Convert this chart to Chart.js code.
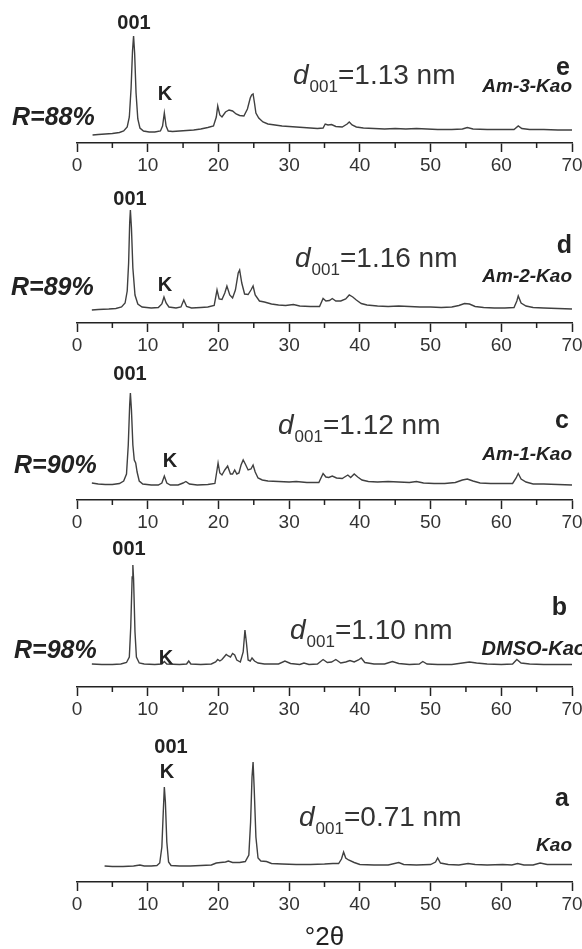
<!DOCTYPE html>
<html>
<head>
<meta charset="utf-8">
<script src="https://cdn.jsdelivr.net/npm/chart.js@4.4.1/dist/chart.umd.min.js"></script>
<style>
  html, body { margin: 0; padding: 0; background: #fff; overflow: hidden; width: 582px; height: 949px; }
  #fig { position: relative; width: 582px; height: 949px; font-family: "Liberation Sans", Arial, sans-serif; color: #222; }
  #fig canvas { position: absolute; left: 0; }
  .lbl { position: absolute; white-space: nowrap; line-height: 1; }
  .sub { position: relative; top: 8px; font-size: 17px; margin-left: 1px; }
</style>
</head>
<body>
<div id="fig"></div>
<script>
// XRD patterns, [2theta in degrees, intensity in a.u.]
const am3Kao = [
  [2.2, 8], [3, 8.5], [4, 9], [5, 9.5], [6, 10.5], [6.6, 12], [7.1, 16], [7.4, 26], [7.65, 55], [7.85, 92],
  [8.0, 107], [8.15, 90], [8.35, 50], [8.6, 24], [8.9, 15], [9.4, 12], [10.2, 11], [11, 11], [11.8, 12], [12.1, 17],
  [12.35, 30], [12.6, 17], [12.9, 12], [13.5, 11.5], [14.5, 12], [15.5, 12.5], [16.5, 13], [17.5, 14], [18.5, 15.5], [19.3, 17],
  [19.7, 26], [19.9, 37], [20.2, 28], [20.5, 26], [21, 31], [21.5, 33], [22, 32], [22.5, 29], [23, 27.5], [23.6, 27],
  [24.1, 34], [24.5, 45], [24.7, 48], [24.9, 49], [25.1, 40], [25.3, 30], [25.7, 25], [26.3, 21], [27, 19], [28, 18],
  [29, 17], [30, 16.5], [31, 16], [32, 15.5], [33, 15], [34, 14.5], [34.8, 15], [35.1, 19], [35.5, 18], [36, 18.5],
  [36.6, 16.5], [37.5, 16], [38.2, 19], [38.5, 21], [38.9, 18], [39.5, 16], [40.5, 15], [42, 14.5], [43.5, 14], [45, 14.5],
  [46.5, 14], [48, 14.5], [49.5, 14], [51, 13.5], [53, 13.5], [54.5, 14], [55.2, 15.5], [56, 14], [58, 13.5], [60, 13.5],
  [61.8, 13.5], [62.4, 17], [62.9, 14.5], [64, 13.5], [66, 13.5], [68, 13], [70, 13],
];
const am2Kao = [
  [2.1, 13], [3, 13.5], [4.5, 14], [5.5, 14.5], [6.3, 16], [6.8, 20], [7.1, 32], [7.3, 60], [7.45, 100], [7.55, 113],
  [7.7, 95], [7.9, 55], [8.2, 28], [8.6, 19], [9.2, 16], [10.5, 15], [11.5, 15.5], [12.0, 19], [12.3, 26], [12.6, 20],
  [13.0, 16], [14.0, 15], [14.7, 16], [15.1, 23], [15.5, 16.5], [16.2, 15], [17.5, 15.5], [18.5, 16], [19.4, 17.5], [19.8, 33],
  [20.1, 24], [20.5, 23.5], [20.9, 30], [21.2, 37], [21.6, 28], [22.0, 25], [22.4, 33], [22.8, 50], [23.0, 53], [23.3, 40],
  [23.7, 29], [24.2, 28.5], [24.6, 33], [24.9, 37], [25.2, 28], [25.8, 22], [26.5, 21], [27.5, 19], [28.5, 18], [29.5, 17.5],
  [30.6, 18.5], [31.5, 17], [33, 16.5], [34.3, 16.5], [34.8, 24.5], [35.2, 22], [35.7, 22.5], [36.1, 24.5], [36.6, 22], [37.3, 22],
  [38, 24], [38.5, 28], [39, 26], [39.5, 23], [40.2, 19.5], [41, 18], [42.5, 17], [44, 16.5], [45.5, 17], [47, 16.5],
  [48.5, 16], [50, 16], [51.5, 15.5], [53, 16], [54, 17.5], [54.8, 19.5], [55.5, 19], [56.3, 16.5], [57.5, 15.5], [59, 15],
  [60.5, 15], [61.8, 15.5], [62.2, 22], [62.4, 27], [62.8, 20], [63.5, 17], [64.5, 15.5], [66, 15], [68, 14.5], [70, 14],
];
const am1Kao = [
  [2.1, 17], [3, 16], [4, 15.5], [5, 15.5], [6, 16.5], [6.6, 19], [7.0, 26], [7.25, 55], [7.45, 95], [7.55, 107],
  [7.7, 90], [7.9, 55], [8.1, 40], [8.3, 37], [8.5, 28], [8.8, 19], [9.3, 16], [10.5, 15], [11.5, 15], [12.0, 17],
  [12.35, 24], [12.7, 17], [13.2, 15], [14.3, 15], [15.0, 17], [15.4, 18.5], [15.9, 16], [17, 15], [18.5, 15.5], [19.5, 16.5],
  [19.8, 30], [19.95, 37], [20.2, 27], [20.5, 25], [20.9, 30], [21.3, 34], [21.7, 26], [22.0, 26], [22.3, 30], [22.6, 26],
  [22.9, 27], [23.2, 35], [23.5, 40], [23.8, 36], [24.2, 30], [24.6, 31], [24.9, 35], [25.2, 28], [25.6, 22], [26.2, 20],
  [27, 19], [28.5, 18.5], [30, 18], [31, 18.5], [32.5, 17.5], [34.2, 17.5], [34.8, 26.5], [35.2, 23], [35.6, 22.5], [36.1, 24],
  [36.7, 22], [37.5, 21.5], [38.3, 25], [38.7, 22.5], [39.2, 26], [39.7, 23], [40.3, 20], [41.2, 18.5], [42.5, 18], [44, 18.5],
  [45.5, 18], [47, 17.5], [48, 18.5], [49, 17], [50.5, 16.5], [52, 16.5], [53.5, 17.5], [54.5, 20], [55.2, 21], [56, 19],
  [57, 17], [58.5, 16.5], [60, 16.5], [61.6, 16.5], [62.1, 22], [62.4, 26.5], [62.8, 21], [63.5, 18], [64.5, 16], [66, 16],
  [68, 15.5], [70, 15],
];
const dmsoKao = [
  [2.1, 23], [3.5, 22.5], [5, 22.5], [6.2, 23], [7.0, 24.5], [7.4, 30], [7.6, 60], [7.8, 110], [7.9, 122], [8.0, 108],
  [8.2, 55], [8.4, 30], [8.8, 24], [9.5, 23], [11, 22.5], [12, 23], [12.35, 25.5], [12.7, 23], [14.5, 22.5], [15.5, 23],
  [15.8, 26], [16.1, 23], [17.5, 22.5], [19, 23], [19.6, 25], [19.9, 27.5], [20.2, 26], [20.5, 27.5], [20.8, 30], [21.1, 32.5],
  [21.4, 31], [21.7, 30], [22.0, 33.5], [22.3, 32], [22.6, 27], [23.1, 25], [23.5, 35], [23.75, 57], [23.95, 45], [24.2, 27],
  [24.5, 26], [24.75, 29], [25.1, 26], [25.6, 24], [26.5, 23], [27.5, 23], [28.5, 23], [29.4, 26], [30.2, 23.5], [31.5, 22.5],
  [32.1, 24], [32.8, 22.5], [34, 23], [34.8, 27.5], [35.4, 24.5], [36, 25], [36.6, 27.5], [37.3, 24], [38, 25], [38.6, 26.5],
  [39.2, 25], [39.8, 27], [40.2, 29], [40.7, 24.5], [42, 23], [43.5, 23], [44.6, 25.5], [45.5, 23.5], [47, 22.5], [48.4, 23],
  [48.9, 25.5], [49.5, 23], [51, 22.5], [53, 22.5], [54.5, 24], [55.5, 25], [56.5, 24], [58, 23], [60, 22.5], [61.6, 23],
  [62.2, 27.5], [62.8, 24], [64, 23], [66, 22.5], [68, 22.5], [70, 22.5],
];
const kao = [
  [3.9, 16], [5, 15.5], [6.5, 15.5], [8, 16], [8.9, 17], [9.5, 16], [10.5, 16], [11.3, 16.5], [11.7, 19], [12.0, 35],
  [12.2, 70], [12.35, 95], [12.5, 80], [12.7, 40], [12.95, 20], [13.3, 16.5], [14.5, 16], [16, 16], [17.5, 16.5], [19, 17],
  [19.7, 19], [20.3, 19.5], [21, 20], [21.4, 21], [22, 19.5], [23, 19.5], [23.8, 20.5], [24.3, 27], [24.55, 60], [24.75, 105],
  [24.9, 120], [25.05, 95], [25.3, 45], [25.6, 24], [26, 21], [26.8, 20.5], [27.5, 18.5], [29, 18], [31, 17.5], [33, 17.5],
  [35, 18], [36.2, 18.5], [37, 18.5], [37.4, 23], [37.7, 30], [38, 24], [38.4, 22], [39.2, 19.5], [40, 17.5], [42, 17],
  [44, 17], [45.5, 19.5], [46.2, 17.5], [48, 17], [50, 17.5], [50.7, 20], [51.0, 24], [51.4, 19], [52.5, 17.5], [54, 17],
  [55.3, 18.5], [56.3, 17.5], [58, 17], [60.2, 17.5], [61.5, 17], [62.3, 18.5], [63.2, 17], [64.5, 17], [65.5, 19], [66.5, 17.5],
  [68, 17.5], [70, 17.5],
];

const patterns = [am3Kao, am2Kao, am1Kao, dmsoKao, kao];
const sampleNames = ['Am-3-Kao', 'Am-2-Kao', 'Am-1-Kao', 'DMSO-Kao', 'Kao'];
const panelLetters = ['e', 'd', 'c', 'b', 'a'];
const dSpacings = ['1.13', '1.16', '1.12', '1.10', '0.71'];
const ratios = ['88%', '89%', '90%', '98%', null];
const axisTitle = '°2θ';

// layout: where each panel's x axis line sits, and label anchors [x, baseline]
const axisLineY = [143, 323, 500, 687, 882];
const plotHeight = 130;
const labelPos = [
  { l001: [134, 29], k: [165, 100], r: [12, 125], d: [293, 85], letter: [570, 75], name: [572, 92, 'right', 19] },
  { l001: [130, 205], k: [165, 291], r: [11, 295], d: [295, 268], letter: [572, 253], name: [572, 282, 'right', 19] },
  { l001: [130, 380], k: [170, 467], r: [14, 473], d: [278, 435], letter: [569, 428], name: [572, 460, 'right', 19] },
  { l001: [129, 555], k: [166, 664], r: [14, 658], d: [290, 640], letter: [567, 615], name: [586, 655, 'right', 20] },
  { l001: [171, 753], k: [167, 778], r: null, d: [299, 827], letter: [569, 806], name: [572, 851, 'right', 19] },
];

const FONT = '"Liberation Sans", Arial, sans-serif';
Chart.defaults.font.family = FONT;
const fig = document.getElementById('fig');

function addLabel(html, x, baseline, size, style, align) {
  const el = document.createElement('div');
  el.className = 'lbl';
  el.innerHTML = html;
  el.style.fontSize = size + 'px';
  el.style.top = (baseline - 0.85 * size) + 'px';
  if (style) el.style.cssText += style;
  if (align === 'right') {
    el.style.right = (582 - x) + 'px';
  } else if (align === 'center') {
    el.style.left = x + 'px';
    el.style.transform = 'translateX(-50%)';
  } else {
    el.style.left = x + 'px';
  }
  fig.appendChild(el);
}

const minorTicks = {
  id: 'minorTicks',
  afterDraw(chart) {
    const { ctx, scales: { x } } = chart;
    ctx.save();
    ctx.strokeStyle = '#222';
    ctx.lineWidth = 1.5;
    x.ticks.forEach(t => {
      if (t.value % 10 === 0) return;
      const px = x.getPixelForValue(t.value);
      ctx.beginPath();
      ctx.moveTo(px, x.top);
      ctx.lineTo(px, x.top + 5);
      ctx.stroke();
    });
    ctx.restore();
  },
};

patterns.forEach((points, i) => {
  const last = i === patterns.length - 1;
  const axisHeight = last ? 71 : 40;
  const canvas = document.createElement('canvas');
  canvas.width = 600;
  canvas.height = plotHeight + axisHeight;
  canvas.style.top = (axisLineY[i] - plotHeight) + 'px';
  fig.appendChild(canvas);

  new Chart(canvas, {
    type: 'line',
    data: {
      datasets: [{
        data: points.map(([x, y]) => ({ x, y })),
        borderColor: '#404040',
        borderWidth: 1.4,
        pointRadius: 0,
        tension: 0,
        fill: false,
        clip: false,
      }],
    },
    options: {
      responsive: false,
      animation: false,
      devicePixelRatio: 1,
      events: [],
      layout: { padding: { left: 77, right: 28, top: 0, bottom: 0 } },
      plugins: { legend: { display: false }, tooltip: { enabled: false } },
      scales: {
        x: {
          type: 'linear',
          min: 0,
          max: 70,
          ticks: {
            stepSize: 5,
            autoSkip: false,
            maxRotation: 0,
            padding: 2,
            color: '#333',
            font: { size: 19 },
            callback: v => (v % 10 === 0 ? v : ''),
          },
          grid: {
            display: true,
            drawOnChartArea: false,
            drawTicks: true,
            tickLength: 9,
            tickWidth: 1.5,
            tickColor: ctx => (ctx.tick && ctx.tick.value % 10 === 0 ? '#222' : 'rgba(0,0,0,0)'),
          },
          border: { display: true, color: '#222', width: 1.5 },
          title: {
            display: last,
            text: axisTitle,
            color: '#222',
            font: { size: 26 },
            padding: 0,
          },
          afterFit: scale => { scale.height = axisHeight; },
        },
        y: { display: false, min: 0, max: plotHeight },
      },
    },
    plugins: [minorTicks],
  });

  const pos = labelPos[i];
  addLabel('001', pos.l001[0], pos.l001[1], 20, 'font-weight:bold;', 'center');
  addLabel('K', pos.k[0], pos.k[1], 20, 'font-weight:bold;', 'center');
  if (ratios[i] && pos.r) {
    addLabel('R=' + ratios[i], pos.r[0], pos.r[1], 25, 'font-weight:bold;font-style:italic;', 'left');
  }
  addLabel('<i>d</i><span class="sub">001</span>=' + dSpacings[i] + ' nm', pos.d[0], pos.d[1], 28, 'color:#333;', 'left');
  addLabel(panelLetters[i], pos.letter[0], pos.letter[1], 25, 'font-weight:bold;', 'right');
  addLabel(sampleNames[i], pos.name[0], pos.name[1], pos.name[3], 'font-weight:bold;font-style:italic;', pos.name[2]);
});
</script>
</body>
</html>
